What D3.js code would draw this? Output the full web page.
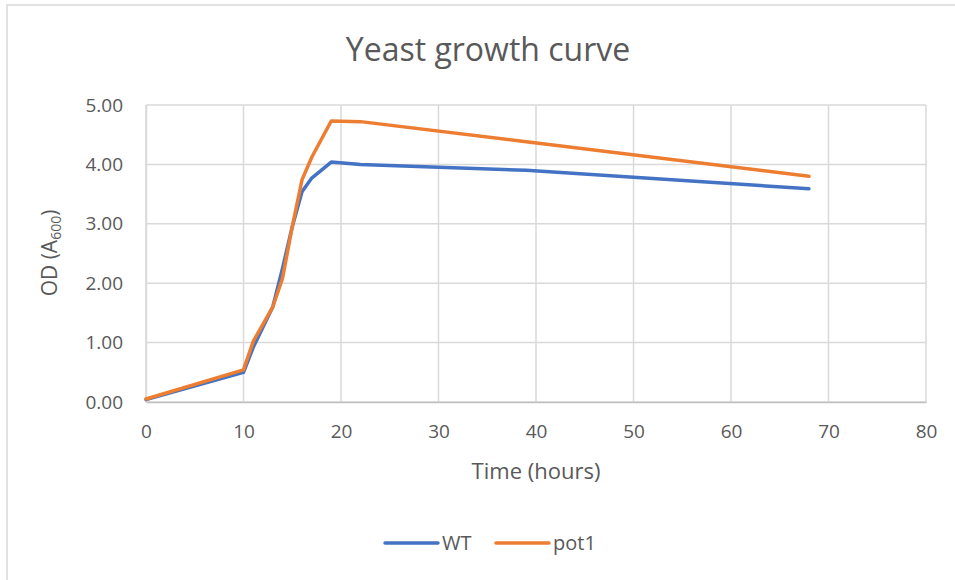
<!DOCTYPE html>
<html><head><meta charset="utf-8">
<script src="https://cdn.jsdelivr.net/npm/d3@7"></script>
<style>body{margin:0;background:#fff}svg{display:block}</style>
</head><body><svg id="c" width="955" height="580"></svg>
<script>
const hours = [0, 10, 11, 13, 14, 15, 16, 17, 19, 22, 39, 68];
const wtOD  = [0.04, 0.50, 0.92, 1.60, 2.25, 2.95, 3.54, 3.77, 4.04, 4.00, 3.90, 3.59];
const pot1OD= [0.05, 0.54, 1.02, 1.60, 2.08, 2.95, 3.74, 4.12, 4.73, 4.72, 4.38, 3.80];
const seriesNames = ["WT", "pot1"];
const xTicks = [0, 10, 20, 30, 40, 50, 60, 70, 80];
const yTicks = [0, 1, 2, 3, 4, 5];

const svg = d3.select("#c");
const font = "'Open Sans', sans-serif";
const txt = "#595959";
svg.append("rect").attr("x", 7).attr("y", 5).attr("width", 960).attr("height", 590)
  .attr("fill", "#fff").attr("stroke", "#d9d9d9").attr("stroke-width", 1.5);

const x = d3.scaleLinear().domain([0, 80]).range([146, 926]);
const y = d3.scaleLinear().domain([0, 5]).range([402, 105]);

// gridlines
svg.append("g").selectAll("line").data(yTicks).join("line")
  .attr("x1", x(0)).attr("x2", x(80)).attr("y1", d => y(d)).attr("y2", d => y(d))
  .attr("stroke", "#d9d9d9").attr("stroke-width", 1.5);
svg.append("g").selectAll("line").data(xTicks).join("line")
  .attr("y1", y(0)).attr("y2", y(5)).attr("x1", d => x(d)).attr("x2", d => x(d))
  .attr("stroke", "#d9d9d9").attr("stroke-width", 1.5);

// axes
const xAxis = svg.append("g").attr("transform", `translate(0,${y(0)})`)
  .call(d3.axisBottom(x).tickValues(xTicks).tickSize(0).tickPadding(23).tickFormat(d3.format("d")));
xAxis.select(".domain").attr("stroke", "#bfbfbf").attr("stroke-width", 1.5);
xAxis.selectAll("text").attr("font-family", font).attr("font-size", 19).attr("fill", txt);
const yAxis = svg.append("g").attr("transform", `translate(${x(0)},0)`)
  .call(d3.axisLeft(y).tickValues(yTicks).tickSize(0).tickPadding(23).tickFormat(d3.format(".2f")));
yAxis.select(".domain").attr("stroke", "#d9d9d9").attr("stroke-width", 1.5);
yAxis.selectAll("text").attr("font-family", font).attr("font-size", 19).attr("fill", txt);

// lines
const line = d3.line().x((d, i) => x(hours[i])).y(d => y(d));
const colors = ["#4472C4", "#ED7D31"];
[wtOD, pot1OD].forEach((s, k) => {
  svg.append("path").datum(s).attr("d", line).attr("fill", "none")
    .attr("stroke", colors[k]).attr("stroke-width", 3.5)
    .attr("stroke-linejoin", "round").attr("stroke-linecap", "round");
});

// titles
svg.append("text").attr("x", 488).attr("y", 61).attr("text-anchor", "middle")
  .attr("font-family", font).attr("font-size", 32).attr("fill", txt).text("Yeast growth curve");
svg.append("text").attr("x", 536).attr("y", 479).attr("text-anchor", "middle")
  .attr("font-family", font).attr("font-size", 22).attr("fill", txt).text("Time (hours)");
const yt = svg.append("text").attr("transform", "translate(57,253) rotate(-90)")
  .attr("text-anchor", "middle").attr("font-family", font).attr("font-size", 21).attr("fill", txt);
yt.append("tspan").text("OD (A");
yt.append("tspan").attr("font-size", 14).attr("dy", 4).text("600");
yt.append("tspan").attr("dy", -4).text(")");

// legend
const legX = [385, 496];
seriesNames.forEach((n, k) => {
  svg.append("line").attr("x1", legX[k]).attr("x2", legX[k] + 53).attr("y1", 543).attr("y2", 543)
    .attr("stroke", colors[k]).attr("stroke-width", 3.5).attr("stroke-linecap", "round");
  svg.append("text").attr("x", legX[k] + 57).attr("y", 550).attr("font-family", font)
    .attr("font-size", 20).attr("fill", txt).text(n);
});
</script></body></html>
